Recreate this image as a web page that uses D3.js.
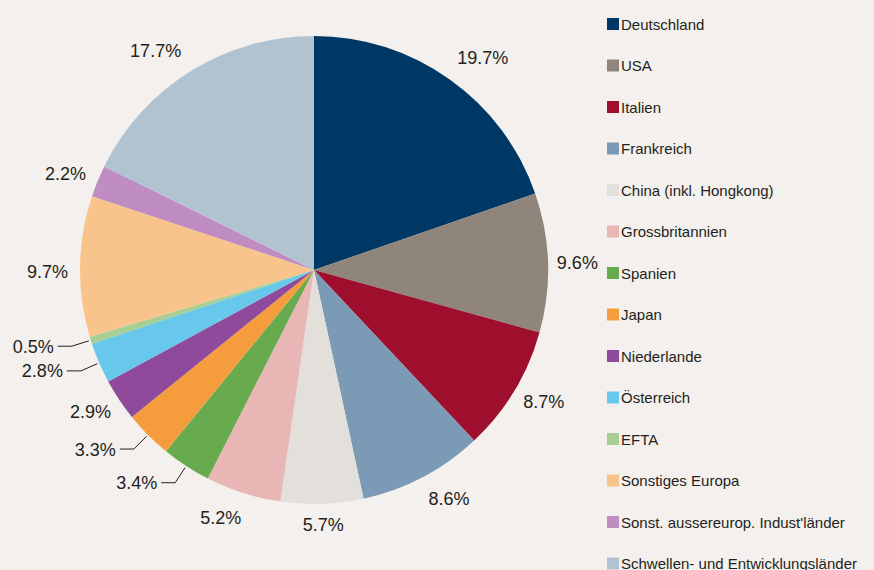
<!DOCTYPE html>
<html>
<head>
<meta charset="utf-8">
<script src="https://cdn.jsdelivr.net/npm/d3@7/dist/d3.min.js"></script>
<style>
  html, body { margin: 0; padding: 0; background: #f4f0ed; }
  svg { display: block; }
</style>
</head>
<body>
<svg id="chart" width="874" height="570"></svg>
<script>
	'use strict';

	////////// Data //////////
	const categories = ['Deutschland', 'USA', 'Italien', 'Frankreich', 'China (inkl. Hongkong)', 'Grossbritannien', 'Spanien', 'Japan', 'Niederlande', 'Österreich', 'EFTA', 'Sonstiges Europa', "Sonst. aussereurop. Indust'länder", 'Schwellen- und Entwicklungsländer'];
	const shares = [19.7, 9.6, 8.7, 8.6, 5.7, 5.2, 3.4, 3.3, 2.9, 2.8, 0.5, 9.7, 2.2, 17.7];
	const colors = ['#003865', '#8f857b', '#9e0f2e', '#7a9ab5', '#e3dfdb', '#e8b7b5', '#68ab4e', '#f59d3d', '#8f4a9b', '#68c8ec', '#a7cf94', '#f9c48b', '#c08dc3', '#b1c2d1'];
	// slices whose label hangs on a leader line
	const leaderLabels = ['Spanien', 'Japan', 'Österreich', 'EFTA'];

	////////// Layout //////////
	const width = 874, height = 570;
	const cx = 314, cy = 270, radius = 234;
	const labelRadius = 248;
	const labelFont = '18px "Liberation Sans", Arial, sans-serif';
	const legendFont = '15px "Liberation Sans", Arial, sans-serif';
	const textColor = '#231f20';
	// hand placed label tweaks, as in the original
	const labelNudge = {
		'Deutschland': [10, -5],
		'USA': [-5, 0],
		'Frankreich': [10, 3],
		'Grossbritannien': [-12, 5],
		'Sonstiges Europa': [2, 5],
		'Schwellen- und Entwicklungsländer': [-14, -3]
	};

	const svg = d3.select('#chart');
	svg.append('rect').attr('width', width).attr('height', height).attr('fill', '#f4f0ed');

	const data = categories.map((name, i) => ({ name, value: shares[i], color: colors[i] }));
	const pie = d3.pie().sort(null).value(d => d.value);
	const arcs = pie(data);
	const arc = d3.arc().innerRadius(0).outerRadius(radius);

	const pieGroup = svg.append('g').attr('transform', `translate(${cx}, ${cy})`);
	pieGroup.selectAll('path.slice')
		.data(arcs)
		.join('path')
		.attr('class', 'slice')
		.attr('d', arc)
		.attr('fill', d => d.data.color);

	// polar helper, angle measured clockwise from 12 o'clock
	const polar = (angle, r) => [Math.sin(angle) * r, -Math.cos(angle) * r];
	const fmt = v => d3.format('.1f')(v) + '%';

	// measure text for the outside-end placement
	const measure = svg.append('text').style('font', labelFont).attr('visibility', 'hidden');
	const textWidth = t => { measure.text(t); return measure.node().getComputedTextLength(); };
	const capHeight = 13;

	const labelGroup = pieGroup.append('g').style('font', labelFont).attr('fill', textColor);

	arcs.forEach(d => {
		const mid = (d.startAngle + d.endAngle) / 2;
		const label = fmt(d.data.value);
		if (leaderLabels.includes(d.data.name)) {
			const p0 = polar(mid, radius + 2);
			const p1 = polar(mid, 254);
			const p2 = [p1[0] - 14, p1[1]];
			labelGroup.append('polyline')
				.attr('points', [p0, p1, p2].map(p => p.join(',')).join(' '))
				.attr('fill', 'none')
				.attr('stroke', textColor)
				.attr('stroke-width', 1);
			labelGroup.append('text')
				.attr('x', p2[0] - 4)
				.attr('y', p2[1] + capHeight / 2)
				.attr('text-anchor', 'end')
				.text(label);
		} else {
			const w = textWidth(label);
			const p = polar(mid, labelRadius);
			const nudge = labelNudge[d.data.name] || [0, 0];
			const x = p[0] + Math.sin(mid) * w / 2 + nudge[0];
			const y = p[1] - Math.cos(mid) * capHeight / 2 + nudge[1];
			labelGroup.append('text')
				.attr('x', x)
				.attr('y', y + capHeight / 2)
				.attr('text-anchor', 'middle')
				.text(label);
		}
	});
	measure.remove();

	////////// Legend //////////
	const legendY = d3.scalePoint().domain(categories).range([24, 563.5]);
	const legend = svg.append('g').attr('class', 'legend').style('font', legendFont);
	const rows = legend.selectAll('g.row')
		.data(data)
		.join('g')
		.attr('class', 'row')
		.attr('transform', d => `translate(607, ${legendY(d.name)})`);
	rows.append('rect')
		.attr('y', -6)
		.attr('width', 12)
		.attr('height', 12)
		.attr('fill', d => d.color);
	rows.append('text')
		.attr('x', 14)
		.attr('y', 5.5)
		.attr('fill', textColor)
		.text(d => d.name);
</script>
</body>
</html>
